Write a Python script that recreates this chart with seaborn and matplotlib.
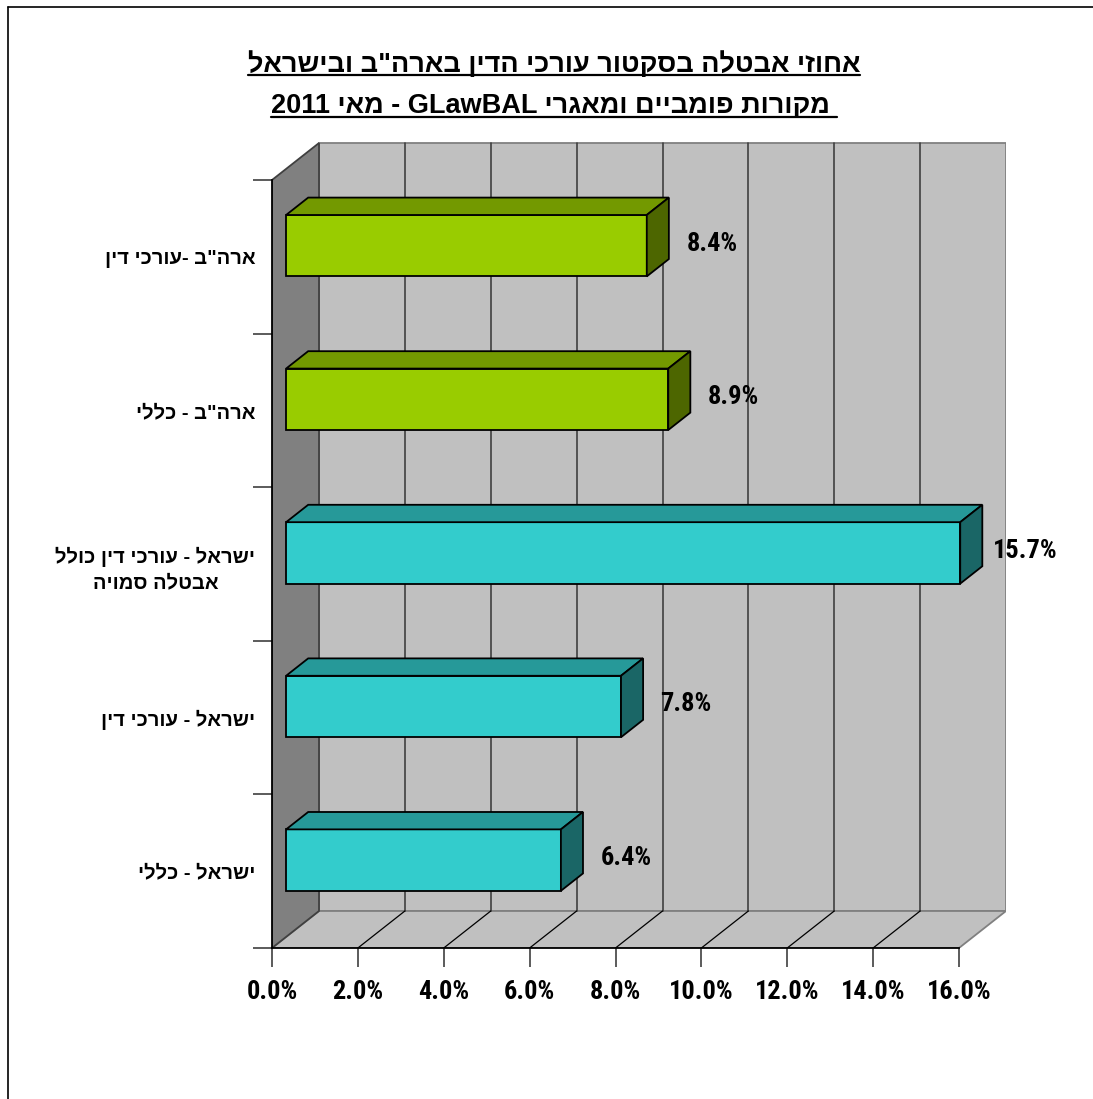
import re
import numpy as np
import pandas as pd
import matplotlib
matplotlib.use("Agg")
import matplotlib.pyplot as plt
import matplotlib.transforms as mtransforms
import matplotlib.colors as mcolors
from matplotlib.patches import Polygon
from matplotlib.lines import Line2D
import seaborn as sns

# ---- data -------------------------------------------------------------
categories = [
    'ארה"ב -עורכי דין',
    'ארה"ב - כללי',
    'ישראל - עורכי דין כולל\nאבטלה סמויה',
    'ישראל - עורכי דין',
    'ישראל - כללי',
]
unemployment_pct = [8.4, 8.9, 15.7, 7.8, 6.4]
bar_colors = ['#99CC00', '#99CC00', '#33CCCC', '#33CCCC', '#33CCCC']
x_ticks = [0, 2, 4, 6, 8, 10, 12, 14, 16]
title_lines = [
    'אחוזי אבטלה בסקטור עורכי הדין בארה"ב ובישראל',
    ' מקורות פומביים ומאגרי GLawBAL - מאי 2011',
]

# ---- style --------------------------------------------------------------
sns.set_theme(style="white")
plt.rcParams['font.family'] = ['Roboto Condensed', 'Liberation Sans', 'DejaVu Sans']
plt.rcParams['font.weight'] = 'bold'
plt.rcParams['text.color'] = 'black'
plt.rcParams['xtick.labelcolor'] = 'black'
plt.rcParams['ytick.labelcolor'] = 'black'
HEB_FONT = ['Liberation Sans', 'DejaVu Sans']

W, H, DPI = 1093, 1099, 100
DEPTH_PX = np.array([47.0, 37.0])   # oblique depth of the box (right, up)
BAR_FRONT = 0.30                     # bar front plane, as share of depth
BAR_DEPTH = 0.47                     # bar thickness, as share of depth
WALL = '#C0C0C0'
SIDE_WALL = '#808080'
GRID = '#404040'


def visual(text):
    """Lay out right-to-left text for a left-to-right renderer."""
    out_lines = []
    for line in text.split('\n'):
        tokens = re.findall(r'[A-Za-z0-9]+|[^A-Za-z0-9]+', line)
        parts = [t if re.match(r'[A-Za-z0-9]', t) else t[::-1] for t in reversed(tokens)]
        out_lines.append(''.join(parts))
    return '\n'.join(out_lines)


def shade(color, k):
    r, g, b = mcolors.to_rgb(color)
    return (r * k, g * k, b * k)


df = pd.DataFrame({'category': categories, 'value': unemployment_pct})

fig = plt.figure(figsize=(W / DPI, H / DPI), dpi=DPI)
ax = fig.add_axes([272 / W, (H - 948) / H, 734 / W, 808 / H])

sns.barplot(data=df, x='value', y='category', hue='category', palette=bar_colors,
            width=0.4, orient='h', edgecolor='black', linewidth=1.3,
            saturation=1, legend=False, ax=ax)
bars = list(ax.patches)

ax.set_xlim(0, 16 * 734 / 687)
ax.set_ylim(4.5, -0.5 - 40 / 153.6)
ax.set_facecolor('none')
ax.set_xlabel('')
ax.set_ylabel('')

# depth vector in data units
p0 = ax.transData.transform((0, 0))
dx, dy = ax.transData.inverted().transform(p0 + DEPTH_PX)
n = len(categories)
y_top, y_bot = -0.5, n - 0.5
x_max = x_ticks[-1]

# ---- walls and floor -----------------------------------------------------
ax.add_patch(Polygon([(dx, y_top + dy), (x_max + dx, y_top + dy),
                      (x_max + dx, y_bot + dy), (dx, y_bot + dy)],
                     closed=True, facecolor=WALL, edgecolor='#808080', lw=1.3, zorder=0.5))
ax.add_patch(Polygon([(0, y_bot), (x_max, y_bot), (x_max + dx, y_bot + dy), (dx, y_bot + dy)],
                     closed=True, facecolor=WALL, edgecolor='#808080', lw=1.3, zorder=0.6))
ax.add_patch(Polygon([(0, y_top), (dx, y_top + dy), (dx, y_bot + dy), (0, y_bot)],
                     closed=True, facecolor=SIDE_WALL, edgecolor=GRID, lw=1.3, zorder=0.7))
for t in x_ticks[1:-1]:
    ax.plot([t + dx, t + dx], [y_top + dy, y_bot + dy], color=GRID, lw=1.2, zorder=0.8)
    ax.plot([t, t + dx], [y_bot, y_bot + dy], color='black', lw=0.9, zorder=0.8)

# ---- 3D bars -------------------------------------------------------------
shift = mtransforms.ScaledTranslation(BAR_FRONT * DEPTH_PX[0] / DPI,
                                      BAR_FRONT * DEPTH_PX[1] / DPI,
                                      fig.dpi_scale_trans)
sx, sy = BAR_FRONT * dx, BAR_FRONT * dy
bx, by = BAR_DEPTH * dx, BAR_DEPTH * dy
for bar, color in zip(bars, bar_colors):
    bar.set_transform(ax.transData + shift)
    bar.set_zorder(3)
    x0 = bar.get_x() + sx
    x1 = bar.get_x() + bar.get_width() + sx
    yt = bar.get_y() + sy
    yb = bar.get_y() + bar.get_height() + sy
    top = Polygon([(x0, yt), (x1, yt), (x1 + bx, yt + by), (x0 + bx, yt + by)],
                  closed=True, facecolor=shade(color, 0.75), edgecolor='black', lw=1.3, zorder=3)
    side = Polygon([(x1, yt), (x1 + bx, yt + by), (x1 + bx, yb + by), (x1, yb)],
                   closed=True, facecolor=shade(color, 0.5), edgecolor='black', lw=1.3, zorder=3)
    ax.add_patch(top)
    ax.add_patch(side)

# value labels
for i, v in enumerate(unemployment_pct):
    ax.annotate(f'{v:.1f}%', xy=(v, i), xytext=(57, 9.5), textcoords='offset points',
                ha='center', va='center', fontsize=19, fontweight='bold', color='black',
                zorder=5)

# ---- axes ----------------------------------------------------------------
for s in ('top', 'right'):
    ax.spines[s].set_visible(False)
ax.spines['left'].set_bounds(y_top, y_bot)
ax.spines['bottom'].set_bounds(0, x_max)
for s in ('left', 'bottom'):
    ax.spines[s].set_color('black')
    ax.spines[s].set_linewidth(1.3)
    ax.spines[s].set_zorder(4)

ax.set_yticks(range(n))
ax.set_yticklabels([visual(c) for c in categories], fontsize=14.5, fontweight='bold',
                   family=HEB_FONT, multialignment='center', linespacing=1.45,
                   color='black')
ax.set_yticks(np.arange(y_top, y_bot + 0.01, 1.0), minor=True)
ax.tick_params(axis='y', which='major', length=0, pad=12)
ax.tick_params(axis='y', which='minor', length=14, width=1.2, color=GRID, direction='out', left=True)

ax.set_xticks(x_ticks)
ax.set_xticklabels([f'{t:.1f}%' for t in x_ticks], fontsize=19, fontweight='bold', color='black')
ax.tick_params(axis='x', which='major', length=14, width=1.2, color=GRID, direction='out',
               pad=9, bottom=True)

# ---- title with underline -------------------------------------------------
title_base_px = [72, 113]
underline_gap_px = [3, 4]
title_texts = []
for line, yb in zip(title_lines, title_base_px):
    title_texts.append(fig.text(554 / W, 1 - yb / H, visual(line), ha='center', va='baseline',
                                fontsize=19.5, fontweight='bold', family=HEB_FONT,
                                color='black'))

fig.canvas.draw()
renderer = fig.canvas.get_renderer()
for t, yb, gap in zip(title_texts, title_base_px, underline_gap_px):
    bb = t.get_window_extent(renderer)
    y = 1 - (yb + gap) / H
    fig.add_artist(Line2D([bb.x0 / W, bb.x1 / W], [y, y], color='black', lw=1.6))

# outer frame
fig.add_artist(Line2D([8 / W, 8 / W], [0, 1 - 7 / H], color='black', lw=1.2))
fig.add_artist(Line2D([8 / W, 1], [1 - 7 / H, 1 - 7 / H], color='black', lw=1.2))

fig.savefig('out.png', dpi=DPI)
